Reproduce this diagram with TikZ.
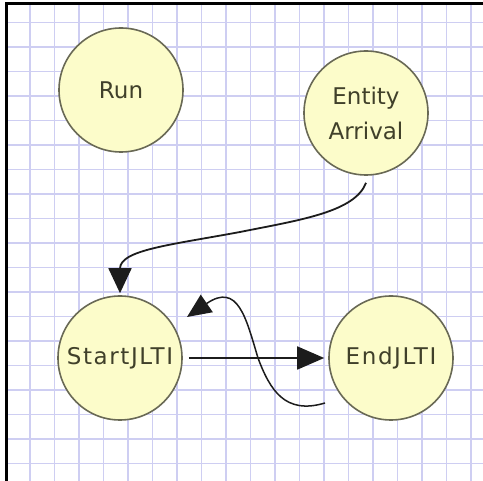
\documentclass[tikz,border=0pt]{standalone}
\usepackage{fontspec}
\setmainfont{DejaVu Sans}
\usetikzlibrary{arrows.meta,calc}

\definecolor{gridline}{RGB}{206,206,242}
\definecolor{statefill}{RGB}{252,252,202}
\definecolor{stateedge}{RGB}{105,105,85}
\definecolor{statetext}{RGB}{64,64,42}
\definecolor{linkcol}{RGB}{28,28,28}

\tikzset{
  state/.style={circle, minimum size=124pt, inner sep=0pt, fill=statefill,
    draw=stateedge, line width=1.6pt, text=statetext,
    font=\fontsize{23}{35}\selectfont, align=center},
  widelabel/.style={font=\fontsize{23}{35}\selectfont\addfontfeatures{LetterSpace=7}},
  link/.style={draw=linkcol, line width=1.8pt},
  bigtip/.style={-{Triangle[length=#1,width=23pt]}},
}

\begin{document}
\begin{tikzpicture}[x=1pt, y=-1pt]
  \useasboundingbox (0,0) rectangle (483,481);
  \fill[white] (0,0) rectangle (483,481);

  % squared paper, 24.5pt cells, lines at x = 30 + 24.5k and y = 22.5 + 24.5k
  \begin{scope}
    \clip (8,5) rectangle (483,481);
    \draw[gridline, line width=1.1pt, shift={(5.5,-2)}, step=24.5pt]
      (-10,-10) grid (500,500);
  \end{scope}

  % frame on the left and top edges
  \draw[black, line width=2.6pt] (6.5,481) -- (6.5,3.5) -- (483,3.5);

  % states
  \node[state] (run)   at (121,90)  {Run};
  \node[state] (arr)   at (366,113) {Entity\\Arrival};
  \node[state, widelabel] (start) at (120,358) {StartJLTI};
  \node[state, widelabel] (end)   at (391,358) {EndJLTI};

  % free ends of the return link
  \coordinate (retA) at ($(end.center)+(-66,45)$);
  \coordinate (retB) at ($(start.center)+(67,-41)$);

  % Entity Arrival -> StartJLTI
  \draw[link, bigtip=25pt, shorten >=2pt]
    ([yshift=-7pt]arr.south) .. controls (355,212) and (300,220) .. (240,232)
    .. controls (170,245) and (120,250) .. (start.north);

  % StartJLTI -> EndJLTI
  \draw[link, bigtip=27pt, shorten <=6pt, shorten >=4pt]
    (start.east) -- (end.west);

  % EndJLTI -> StartJLTI (return loop)
  \draw[link, line width=1.5pt, -{Triangle[length=24pt,width=21pt]}]
    (retA) .. controls (285,415) and (270,390) .. (258,358)
    .. controls (246,318) and (238,282) .. (retB);
\end{tikzpicture}
\end{document}
